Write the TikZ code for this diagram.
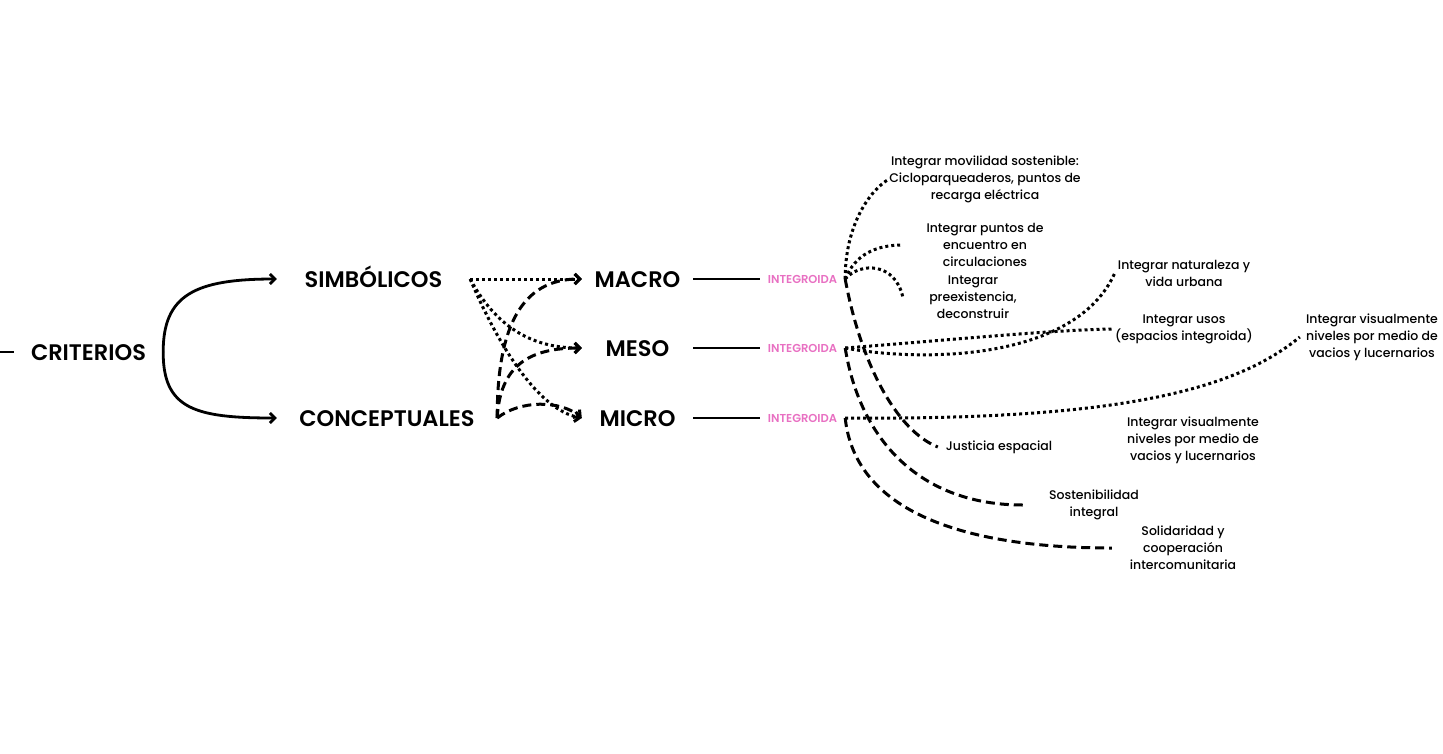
\documentclass[tikz,border=0pt]{standalone}
\usepackage{fontspec}
\setmainfont{Poppins}
\newfontfamily\headfont{Poppins SemiBold}
\newfontfamily\notefont{Poppins Medium}
\usetikzlibrary{arrows.meta}
\definecolor{pinkint}{rgb}{0.91, 0.44, 0.76}
\tikzstyle{mainlabel}=[font=\fontsize{22.5}{26}\headfont,inner sep=0pt,text height=16pt,text depth=0pt]
\tikzstyle{pinklabel}=[font=\fontsize{11.5}{13}\headfont,text=pinkint,inner sep=0pt]
\tikzstyle{notelabel}=[font=\fontsize{12.5}{17}\notefont,align=center,inner sep=0pt]
\tikzstyle{link}=[line width=2.8pt]
\tikzstyle{dotlink}=[line width=3pt,dash pattern=on 3pt off 3pt]
\tikzstyle{dashlink}=[line width=3pt,dash pattern=on 9pt off 5pt]

\begin{document}
\begin{tikzpicture}[x=1pt,y=-1pt,>={Straight Barb[length=5pt,width=10pt]}]
  \useasboundingbox (0,0) rectangle (1443,753);

  % MAIN LABELS
  \coordinate (lefttip) at (0,352);
  \node[mainlabel,minimum width=149] (criterios) at (88.5,352) {CRITERIOS};
  \node[mainlabel,minimum width=193] (simbolicos) at (373.5,279) {SIMBÓLICOS};
  \node[mainlabel,minimum width=220] (conceptuales) at (387,418) {CONCEPTUALES};
  \node[mainlabel,minimum width=111] (macro) at (637.5,279) {MACRO};
  \node[mainlabel,minimum width=111] (meso) at (637.5,348) {MESO};
  \node[mainlabel,minimum width=111] (micro) at (637.5,418) {MICRO};

  % INTEGROIDA
  \node[pinklabel,minimum width=85] (intmacro) at (802.5,279) {INTEGROIDA};
  \node[pinklabel,minimum width=85] (intmeso) at (802.5,348) {INTEGROIDA};
  \node[pinklabel,minimum width=85] (intmicro) at (802.5,418) {INTEGROIDA};

  % NOTES
  \node[notelabel,minimum width=160] (movil) at (985,179) {Integrar movilidad sostenible:\\Cicloparqueaderos, puntos de\\recarga eléctrica};
  \node[notelabel,minimum width=164] (puntos) at (985,245) {Integrar puntos de\\encuentro en\\circulaciones};
  \node[notelabel,minimum width=140] (preex) at (973,297) {Integrar\\preexistencia,\\deconstruir};
  \node[notelabel,minimum width=138] (natur) at (1184,273) {Integrar naturaleza y\\vida urbana};
  \node[notelabel,minimum width=142] (usos) at (1184,329) {Integrar usos\\(espacios integroida)};
  \node[notelabel,minimum width=144] (visualup) at (1372,337) {Integrar visualmente\\niveles por medio de\\vacios y lucernarios};
  \node[notelabel,minimum width=122] (justicia) at (999,447) {Justicia espacial};
  \node[notelabel] (visualdown) at (1193,440) {Integrar visualmente\\niveles por medio de\\vacios y lucernarios};
  \node[notelabel,minimum width=142] (sosten) at (1094,505) {Sostenibilidad\\integral};
  \node[notelabel,minimum width=142] (solid) at (1183,548) {Solidaridad y\\cooperación\\intercomunitaria};

  % CRITERIOS
  \draw[link] (lefttip) -- (criterios.west);
  \draw[link,->] (criterios.east) .. controls (163,295) and (195,279) .. (simbolicos.west);
  \draw[link,->] (criterios.east) .. controls (163,409) and (195,418) .. (conceptuales.west);

  % SIMBOLICOS / CONCEPTUALES
  \draw[dotlink,->] (simbolicos.east) -- (macro.west);
  \draw[dotlink,->] (simbolicos.east) .. controls (495,325) and (530,348) .. (meso.west);
  \draw[dotlink,->] (simbolicos.east) .. controls (500,350) and (540,410) .. (micro.west);
  \draw[dashlink,->] (conceptuales.east) .. controls (497,330) and (520,279) .. (macro.west);
  \draw[dashlink,->] (conceptuales.east) .. controls (500,365) and (530,348) .. (meso.west);
  \draw[dashlink,->] (conceptuales.east) .. controls (520,400) and (560,400) .. (micro.west);

  % LEVELS
  \draw[link] (macro.east) -- (intmacro.west);
  \draw[link] (meso.east) -- (intmeso.west);
  \draw[link] (micro.east) -- (intmicro.west);

  % MACRO
  \draw[dotlink] (intmacro.east) .. controls (845,225) and (870,190) .. (movil.west);
  \draw[dotlink] (intmacro.east) .. controls (855,255) and (875,245) .. (puntos.west);
  \draw[dotlink] (intmacro.east) .. controls (860,262) and (895,262) .. (preex.west);
  \draw[dashlink] (intmacro.east) .. controls (860,360) and (895,430) .. (justicia.west);

  % MESO
  \draw[dotlink] (intmeso.east) .. controls (950,340) and (1050,330) .. (usos.west);
  \draw[dotlink] (intmeso.east) .. controls (920,362) and (1075,362) .. (natur.west);
  \draw[dashlink] (intmeso.east) .. controls (860,440) and (920,505) .. (sosten.west);

  % MICRO
  \draw[dotlink] (intmicro.east) .. controls (1100,420) and (1230,395) .. (visualup.west);
  \draw[dashlink] (intmicro.east) .. controls (855,510) and (960,548) .. (solid.west);

\end{tikzpicture}
\end{document}
